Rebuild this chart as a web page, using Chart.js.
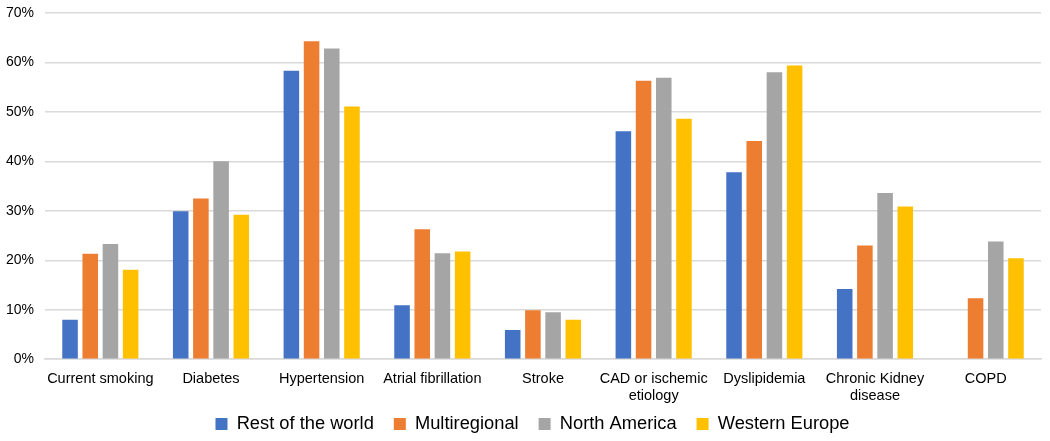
<!DOCTYPE html>
<html>
<head>
<meta charset="utf-8">
<script src="https://cdn.jsdelivr.net/npm/chart.js@4"></script>
<style>
  html, body { margin: 0; padding: 0; background: #fff; }
  #wrap { width: 1050px; height: 441px; position: relative; }
</style>
</head>
<body>
<div id="wrap"><canvas id="chart"></canvas></div>
<script>
// Categorias e valores (%)
const categorias = [
    'Current smoking', 'Diabetes', 'Hypertension', 'Atrial fibrillation', 'Stroke',
    ['CAD or ischemic', 'etiology'], 'Dyslipidemia', ['Chronic Kidney', 'disease'], 'COPD'
];
const restOfWorld   = [8.0, 29.9, 58.3, 10.9, 5.9, 46.1, 37.8, 14.2, null];
const multiregional = [21.3, 32.5, 64.3, 26.3, 9.9, 56.3, 44.1, 23.0, 12.3];
const northAmerica  = [23.3, 40.0, 62.8, 21.4, 9.5, 56.9, 58.0, 33.6, 23.8];
const westernEurope = [18.1, 29.2, 51.1, 21.8, 8.0, 48.6, 59.4, 30.9, 20.4];
const yTicks = [0, 10, 20, 30, 40, 50, 60, 70];

const fonte = 'Helvetica, "Liberation Sans", Arial, sans-serif';

function serie(label, data, cor) {
    return {
        label: label,
        data: data,
        backgroundColor: cor,
        borderColor: cor,
        borderWidth: 0,
        categoryPercentage: 0.73,
        barPercentage: 0.77,
    };
}

// O eixo x fica mais baixo que os rótulos; libera o recorte dos rótulos até o fim do canvas
// e desloca um pouco a legenda para a direita
const ajustesLayout = {
    id: 'ajustesLayout',
    afterLayout(chart) {
        chart.scales.x.bottom = chart.height;
        chart.legend.left = 24;
    },
};

const ctx = document.getElementById('chart').getContext('2d');
new Chart(ctx, {
    type: 'bar',
    data: {
        labels: categorias,
        datasets: [
            serie('Rest of the world', restOfWorld, '#4472C4'),
            serie('Multiregional', multiregional, '#ED7D31'),
            serie('North America', northAmerica, '#A5A5A5'),
            serie('Western Europe', westernEurope, '#FFC000'),
        ],
    },
    options: {
        responsive: true,
        maintainAspectRatio: false,
        animation: false,
        layout: { padding: { top: 0, right: 9, left: 0, bottom: -2.25 } },
        scales: {
            x: {
                grid: { display: false, drawTicks: false },
                border: { color: '#d9d9d9', width: 1.5 },
                afterFit: (axis) => { axis.height = 35.75; },
                ticks: {
                    color: '#000',
                    font: { family: fonte, size: 14.5, lineHeight: 1.17 },
                    maxRotation: 0,
                    autoSkip: false,
                    padding: 11,
                },
            },
            y: {
                min: 0,
                max: 70,
                afterBuildTicks: (axis) => { axis.ticks = yTicks.map(v => ({ value: v })); },
                afterFit: (axis) => { axis.width = 45; },
                grid: { color: '#d9d9d9', lineWidth: 1.5, drawTicks: true, tickLength: 6.4, tickColor: 'rgba(0,0,0,0)' },
                border: { display: false },
                ticks: {
                    color: '#000',
                    font: { family: fonte, size: 14 },
                    padding: 4.6,
                    callback: (v) => v + '%',
                },
            },
        },
        plugins: {
            legend: {
                position: 'bottom',
                labels: {
                    color: '#000',
                    font: { family: fonte, size: 18.3 },
                    boxWidth: 12,
                    boxHeight: 12,
                    padding: 20,
                },
            },
            tooltip: { enabled: false },
        },
    },
    plugins: [ajustesLayout],
});
</script>
</body>
</html>
